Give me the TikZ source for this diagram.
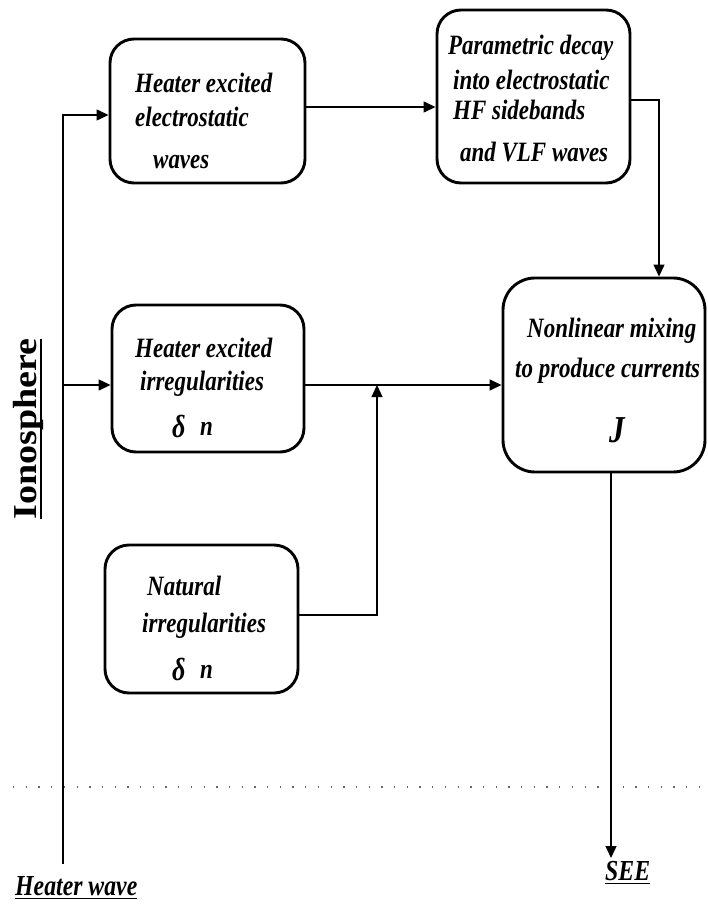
\documentclass[tikz,border=0pt]{standalone}
\usepackage{fontspec}
\setmainfont{Liberation Serif}[FakeStretch=0.82]
\newfontfamily\plainserif{Liberation Serif}
\usetikzlibrary{arrows.meta}
\newcommand\myUline[3]{\setbox0\hbox{#3}\rlap{\rule[-#1]{\wd0}{#2}}\box0}
\tikzset{
  box/.style={draw, line width=2.9pt, rounded corners=24pt, inner sep=0pt},
  conn/.style={line width=1.3pt},
  arr/.style={conn, -{Triangle[length=12pt,width=11pt]}},
  btxt/.style={font=\fontsize{28}{30}\selectfont\bfseries\itshape, anchor=base west, inner sep=0pt},
  bsym/.style={font=\fontsize{32}{34}\selectfont\bfseries\itshape, anchor=base west, inner sep=0pt},
  ltxt/.style={font=\fontsize{29}{30}\selectfont\bfseries\itshape, anchor=base west, inner sep=0pt},
}
\begin{document}
\begin{tikzpicture}[x=1pt,y=-1pt]
\useasboundingbox (0,0) rectangle (707,904);
% dotted boundary
\draw[gray!80!black, line width=1.3pt, dash pattern=on 1.3pt off 11.4pt] (13,787) -- (700,787);

% boxes
\node[box, minimum width=195pt, minimum height=144pt] (b1) at (207.5,111) {};
\node[box, minimum width=193pt, minimum height=173pt] (b2) at (533.5,96.5) {};
\node[box, minimum width=192pt, minimum height=147pt] (b3) at (208,378.5) {};
\node[box, minimum width=202pt, minimum height=194pt, rounded corners=32pt] (b4) at (604,375) {};
\node[box, minimum width=193pt, minimum height=148pt] (b5) at (201.5,619) {};

% box texts
\node[btxt] (t11) at (135,93) {Heater excited};
\node[btxt] (t12) at (135,127) {electrostatic};
\node[btxt] (t13) at (153,168) {waves};

\node[btxt] (t21) at (448,55) {Parametric decay};
\node[btxt] (t22) at (453,90) {into electrostatic};
\node[btxt] (t23) at (453,120) {HF sidebands};
\node[btxt] (t24) at (460,162) {and VLF waves};

\node[btxt] (t31) at (135,357) {Heater excited};
\node[btxt] (t32) at (140,390) {irregularities};
\node[bsym] (t33) at (172,437) {δ};
\node[btxt] (t34) at (200,435) {n};

\node[btxt] (t41) at (527,337) {Nonlinear mixing};
\node[btxt] (t42) at (515,377) {to produce currents};
\node[btxt, font=\fontsize{38}{40}\selectfont\bfseries\itshape] (t43) at (609,442) {J};

\node[btxt] (t51) at (147,595) {Natural};
\node[btxt] (t52) at (142,632) {irregularities};
\node[bsym] (t53) at (172,680) {δ};
\node[btxt] (t54) at (200,678) {n};

% side / bottom labels
\node[rotate=90, anchor=base, inner sep=0pt] (iono) at (36,429)
  {\scalebox{1}[0.88]{\plainserif\fontsize{38}{40}\selectfont\bfseries\myUline{7pt}{2pt}{Ionosphere}}};
\node[ltxt] (hw) at (15,895) {\myUline{4pt}{1.5pt}{Heater wave}};
\node[ltxt] (see) at (605,880) {\myUline{4pt}{1.5pt}{SEE}};

% helper coordinates
\coordinate (hwtop) at (63,864);
\coordinate (j1) at (63,115);
\coordinate (j2) at (63,385);
\coordinate (y107) at (0,107);
\coordinate (y100) at (0,100);
\coordinate (x659) at (659,0);
\coordinate (y385) at (0,385);
\coordinate (y615) at (0,615);
\coordinate (jn) at (377,385);
\coordinate (x611) at (611,0);
\coordinate (seetip) at (611,858);

% connectors
\draw[arr] (hwtop) -- (j1) -- (j1 -| b1.west);
\draw[arr] (j2) -- (j2 -| b3.west);
\draw[arr] (b1.east |- y107) -- (b2.west |- y107);
\draw[arr] (b2.east |- y100) -| (b4.north -| x659);
\draw[arr] (b3.east |- y385) -- (b4.west |- y385);
\draw[arr] (b5.east |- y615) -| (jn);
\draw[arr] (b4.south -| x611) -- (seetip);
\end{tikzpicture}
\end{document}
